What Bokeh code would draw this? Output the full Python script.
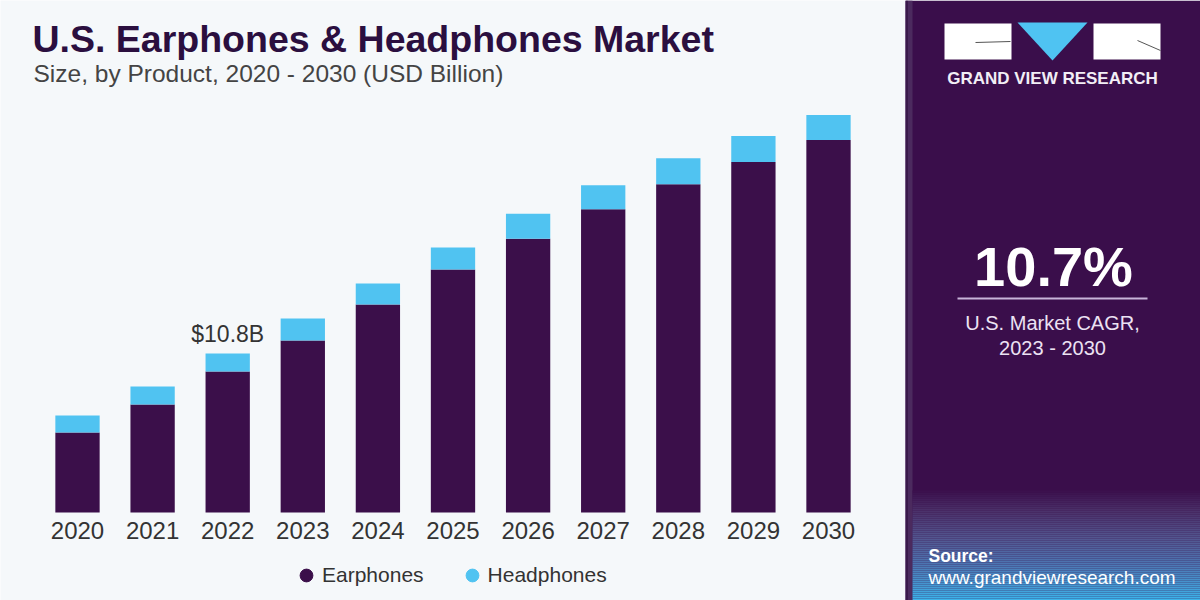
from bokeh.plotting import figure
from bokeh.models import Range1d, Label, Legend, LegendItem, ColumnDataSource
from bokeh.core.properties import value
from bokeh.embed import file_html
from bokeh.resources import INLINE
import numpy as np

# ---------------- data ----------------
years = ["2020", "2021", "2022", "2023", "2024", "2025", "2026", "2027", "2028", "2029", "2030"]
earphones = [5.43, 7.34, 9.58, 11.68, 14.13, 16.50, 18.60, 20.60, 22.30, 23.80, 25.30]
headphones = [1.16, 1.22, 1.22, 1.50, 1.43, 1.50, 1.70, 1.63, 1.77, 1.77, 1.70]
series = ["Earphones", "Headphones"]
annot_year = "2022"
annot_text = "$10.8B"
cagr_text = "10.7%"
cagr_caption = ["U.S. Market CAGR,", "2023 - 2030"]
title_text = "U.S. Earphones & Headphones Market"
subtitle_text = "Size, by Product, 2020 - 2030 (USD Billion)"
brand_text = "GRAND VIEW RESEARCH"
source_label = "Source:"
source_url = "www.grandviewresearch.com"

# ---------------- style / geometry ----------------
FONT = "Liberation Sans"
BG = "#f5f8fa"
DARK = "#3b0f4a"
LIGHT = "#50c3f1"
PANEL = "#3a0e4b"
TXT = "#333333"
W, H = 1200, 600
X0, STEP = 77.0, 75.1          # px of first category centre, px per category
BASE, PXV = 88.0, 14.722       # px of value 0 from bottom, px per billion

def Y(ref_y):
    return H - ref_y

pos = list(range(len(years)))
src = ColumnDataSource(dict(pos=pos, year=years, Earphones=earphones, Headphones=headphones))

p = figure(width=W, height=H, x_range=Range1d(0, W), y_range=Range1d(0, H),
           output_backend="svg", toolbar_location=None, min_border=0,
           x_axis_location=None, y_axis_location=None,
           background_fill_color=BG, border_fill_color=BG, outline_line_color=None)
p.grid.visible = False
p.extra_x_ranges = {"yr": Range1d(-X0 / STEP, (W - X0) / STEP)}
p.extra_y_ranges = {"val": Range1d(-BASE / PXV, (H - BASE) / PXV)}

p.vbar_stack(series, x="pos", width=0.59, color=[DARK, LIGHT], source=src, line_color=None,
             x_range_name="yr", y_range_name="val")

# category labels
p.text(x="pos", y=0, text="year", source=src, x_range_name="yr", y_range_name="val",
       text_align="center", text_baseline="middle", y_offset=18,
       text_font=value(FONT), text_font_size="24px", text_color=TXT)

# annotation above 2022
idx = years.index(annot_year)
total = earphones[idx] + headphones[idx]
p.text(x=[idx], y=[total], text=[annot_text], x_range_name="yr", y_range_name="val",
       text_align="center", text_baseline="middle", y_offset=-20,
       text_font=value(FONT), text_font_size="23px", text_color=TXT)

# title / subtitle
p.add_layout(Label(x=32, y=Y(38.5), text=title_text, text_font=FONT, text_font_style="bold",
                   text_font_size="37.5px", text_color="#2b0f3f", text_baseline="middle"))
p.add_layout(Label(x=33, y=Y(73), text=subtitle_text, text_font=FONT, text_font_size="24.5px",
                   text_color="#444444", text_baseline="middle"))

# ---------------- right panel ----------------
PX = 905
p.quad(left=[PX], right=[W], bottom=[0], top=[H], color=PANEL, line_color=None)
p.quad(left=[PX], right=[PX + 7], bottom=[0], top=[H], color="#4b2a5e", line_color=None)
p.quad(left=[PX + 1], right=[PX + 2], bottom=[0], top=[H], color="#2a0838", line_color=None)

# bottom gradient (ref y 490..600)
stops_y = [0, 15, 38, 62, 90, 110]
stops_c = ["#3cb3ea", "#4597d0", "#4d72ae", "#52558e", "#4a2f68", PANEL]
def hex2rgb(h):
    h = h.lstrip("#")
    return np.array([int(h[i:i + 2], 16) for i in (0, 2, 4)], dtype=float)
cols = [hex2rgb(c) for c in stops_c]
bl, bt, bc = [], [], []
for yy in range(0, 110, 2):
    for k in range(len(stops_y) - 1):
        if stops_y[k] <= yy < stops_y[k + 1]:
            t = (yy - stops_y[k]) / (stops_y[k + 1] - stops_y[k])
            c = cols[k] * (1 - t) + cols[k + 1] * t
            break
    bl.append(yy); bt.append(yy + 2)
    bc.append("#%02x%02x%02x" % tuple(int(round(v)) for v in c))
p.quad(left=PX + 7, right=W, bottom=bl, top=bt, color=bc, line_color=None)

# logo
p.quad(left=[944, 1093], right=[1011, 1160], bottom=[Y(59), Y(59)], top=[Y(23), Y(23)],
       color="white", line_color=None)
p.patch(x=[1017, 1087, 1052], y=[Y(22), Y(22), Y(60)], color="#4fc3f2", line_color=None)
p.line(x=[975, 1010], y=[Y(42), Y(41)], line_color="#555555", line_width=1)
p.line(x=[1137, 1160], y=[Y(40), Y(50)], line_color="#555555", line_width=1)
p.text(x=[1052], y=[Y(78)], text=[brand_text], text_align="center", text_baseline="middle",
       text_font=value(FONT), text_font_style="bold", text_font_size="17px", text_color="#f2eef6")

# CAGR
p.text(x=[1053], y=[Y(266)], text=[cagr_text], text_align="center", text_baseline="middle",
       text_font=value(FONT), text_font_style="bold", text_font_size="56px", text_color="white")
p.line(x=[957, 1147], y=[Y(298), Y(298)], line_color="#c8b4d9", line_width=2)
p.text(x=[1052, 1052], y=[Y(322), Y(347)], text=cagr_caption, text_align="center",
       text_baseline="middle", text_font=value(FONT), text_font_size="20px", text_color="#ece2f3")

# source
p.text(x=[928], y=[Y(555)], text=[source_label], text_align="left", text_baseline="middle",
       text_font=value(FONT), text_font_style="bold", text_font_size="17.5px", text_color="white")
p.text(x=[928], y=[Y(577)], text=[source_url], text_align="left", text_baseline="middle",
       text_font=value(FONT), text_font_size="19px", text_color="white")

# legend
r1 = p.scatter(x=[np.nan], y=[np.nan], marker="circle", size=13, color=DARK)
r2 = p.scatter(x=[np.nan], y=[np.nan], marker="circle", size=13, color=LIGHT)
legend = Legend(items=[LegendItem(label=value(series[0]), renderers=[r1]),
                       LegendItem(label=value(series[1]), renderers=[r2])],
                orientation="horizontal", location=(290, 9),
                glyph_width=32, glyph_height=32, label_standoff=0, spacing=32,
                padding=0, margin=0, border_line_color=None, background_fill_alpha=0,
                label_text_font=FONT, label_text_font_size="21px", label_text_color=TXT)
p.add_layout(legend, "center")

open("out.html", "w").write(file_html(p, INLINE))
